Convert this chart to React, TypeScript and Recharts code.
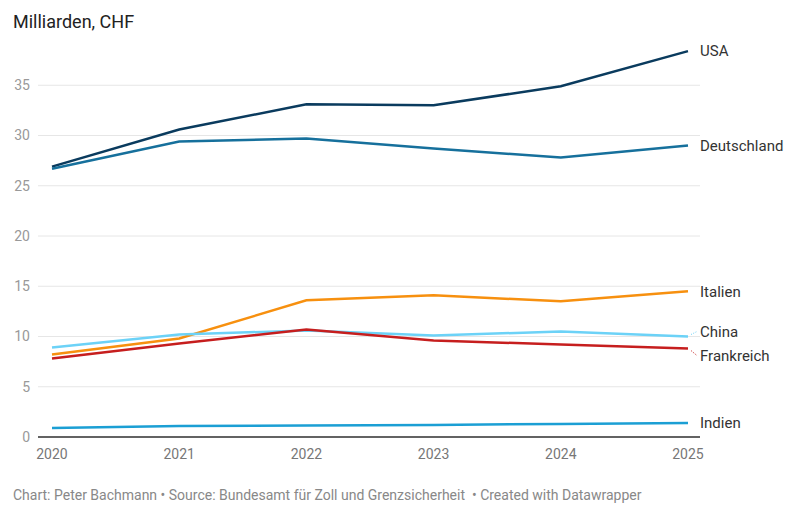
import React from 'react';
import { LineChart, Line, XAxis, YAxis, CartesianGrid, LabelList } from 'recharts';

const YEARS = [2020, 2021, 2022, 2023, 2024, 2025];
const USA = [26.9, 30.6, 33.1, 33.0, 34.9, 38.4];
const DEUTSCHLAND = [26.7, 29.4, 29.7, 28.7, 27.8, 29.0];
const ITALIEN = [8.2, 9.8, 13.6, 14.1, 13.5, 14.5];
const CHINA = [8.9, 10.2, 10.6, 10.1, 10.5, 10.0];
const FRANKREICH = [7.8, 9.3, 10.7, 9.6, 9.2, 8.8];
const INDIEN = [0.9, 1.1, 1.15, 1.2, 1.3, 1.4];
const Y_TICKS = [0, 5, 10, 15, 20, 25, 30, 35];

const data = YEARS.map((year, i) => ({
  year,
  usa: USA[i],
  deutschland: DEUTSCHLAND[i],
  italien: ITALIEN[i],
  china: CHINA[i],
  frankreich: FRANKREICH[i],
  indien: INDIEN[i],
}));

// line styles + end label nudges
const SERIES = [
  { key: 'usa', name: 'USA', color: '#0a3b5e', dy: 0 },
  { key: 'deutschland', name: 'Deutschland', color: '#16709c', dy: 0 },
  { key: 'italien', name: 'Italien', color: '#f7900f', dy: 0 },
  { key: 'china', name: 'China', color: '#6cd2f7', dy: -5 },
  { key: 'frankreich', name: 'Frankreich', color: '#c61e1e', dy: 7 },
  { key: 'indien', name: 'Indien', color: '#1b9fd4', dy: 0 },
];

const FONT = 'Roboto, "Noto Sans", sans-serif';

const endLabel = (name: string, color: string, dy: number) => (props: any) => {
  const { x, y, index } = props;
  if (index !== YEARS.length - 1) return null;
  return (
    <g>
      {dy !== 0 && (
        <line
          x1={x + 3}
          y1={y + (dy > 0 ? 2 : -2)}
          x2={x + 9}
          y2={y + dy}
          stroke={color}
          strokeWidth={1}
          strokeDasharray="1 1.5"
        />
      )}
      <text
        x={x + 12}
        y={y + dy}
        dy="0.35em"
        fontSize={15}
        fill="#333"
        fontFamily={FONT}
      >
        {name}
      </text>
    </g>
  );
};

export default function App() {
  return (
    <div
      style={{
        position: 'absolute',
        left: 0,
        top: 0,
        width: 800,
        height: 519,
        background: '#fff',
        fontFamily: FONT,
      }}
    >
      <div style={{ position: 'absolute', left: 13, top: 11, fontSize: 18, color: '#222' }}>
        Milliarden, CHF
      </div>
      <LineChart
        width={800}
        height={470}
        data={data}
        margin={{ top: 35, right: 100, left: 0, bottom: 3 }}
      >
        <CartesianGrid vertical={false} stroke="#e6e6e6" horizontalValues={Y_TICKS} />
        <XAxis
          dataKey="year"
          type="number"
          domain={[2020, 2025]}
          ticks={YEARS}
          padding={{ left: 14, right: 12 }}
          height={30}
          tickLine={false}
          tickMargin={6}
          axisLine={{ stroke: '#333', strokeWidth: 1.5 }}
          tick={{ fontSize: 14, fill: '#777', fontFamily: FONT }}
        />
        <YAxis
          domain={[0, 40]}
          ticks={Y_TICKS}
          width={38}
          axisLine={false}
          tickLine={false}
          tick={{ fontSize: 14, fill: '#999', fontFamily: FONT }}
        />
        {SERIES.map((s) => (
          <Line
            key={s.key}
            dataKey={s.key}
            name={s.name}
            stroke={s.color}
            strokeWidth={2.5}
            dot={false}
            type="linear"
            isAnimationActive={false}
          >
            <LabelList dataKey={s.key} content={endLabel(s.name, s.color, s.dy)} />
          </Line>
        ))}
      </LineChart>
      <div
        style={{
          position: 'absolute',
          left: 13,
          top: 487,
          fontSize: 14,
          color: '#888',
          whiteSpace: 'pre',
        }}
      >
        {'Chart: Peter Bachmann • Source: Bundesamt für Zoll und Grenzsicherheit  • Created with Datawrapper'}
      </div>
    </div>
  );
}
